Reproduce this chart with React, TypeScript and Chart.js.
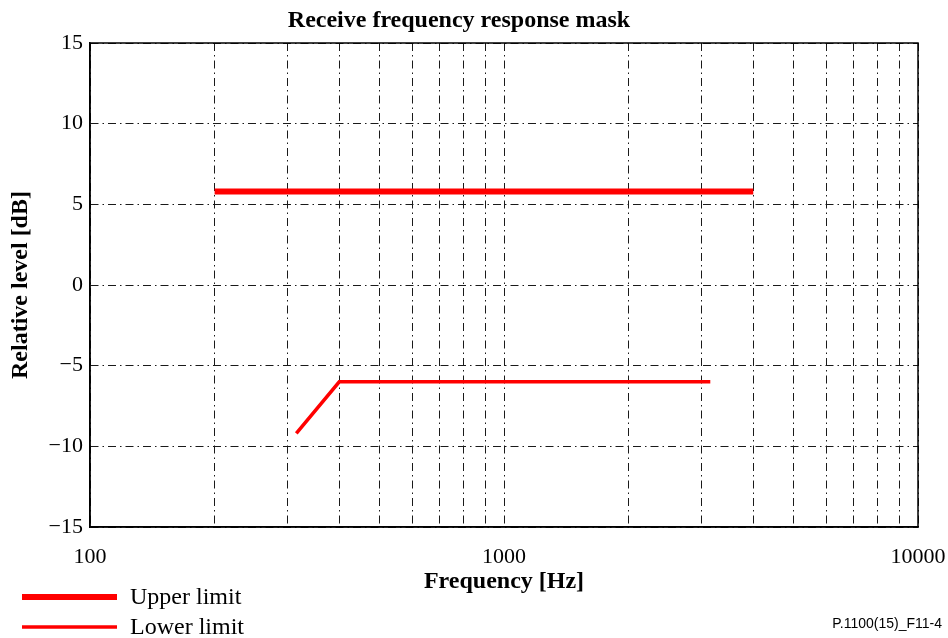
import React, { useEffect, useRef } from 'react';
import { Chart, registerables } from 'chart.js';

Chart.register(...registerables);

const chartTitle = 'Receive frequency response mask';
const xAxisTitle = 'Frequency [Hz]';
const yAxisTitle = 'Relative level [dB]';
const figureId = 'P.1100(15)_F11-4';

const xTickValues = [100, 200, 300, 400, 500, 600, 700, 800, 900, 1000, 2000, 3000, 4000, 5000, 6000, 7000, 8000, 9000, 10000];
const xTickLabels = ['100', '1000', '10000'];
const yTickValues = [-15, -10, -5, 0, 5, 10, 15];

const seriesLabels = ['Upper limit', 'Lower limit'];
const upperFreq = [200, 4000];
const upperLevel = [5.8, 5.8];
const lowerFreq = [315, 400, 3150];
const lowerLevel = [-9.2, -6, -6];

const SERIF = '"Liberation Serif", "Times New Roman", serif';
const SANS = '"Liberation Sans", Arial, sans-serif';
const DASH = [8, 4, 1.5, 4];

const framePlugin = {
  id: 'frame',
  afterDatasetsDraw(chart: any) {
    const { ctx, chartArea } = chart;
    ctx.save();
    ctx.strokeStyle = '#000';
    ctx.lineWidth = 1.5;
    ctx.setLineDash([]);
    ctx.strokeRect(chartArea.left, chartArea.top, chartArea.right - chartArea.left, chartArea.bottom - chartArea.top);
    ctx.restore();
  },
};

const legendPlugin = {
  id: 'customLegend',
  afterDraw(chart: any) {
    const { ctx } = chart;
    ctx.save();
    const rows = [597, 627];
    chart.data.datasets.forEach((ds: any, i: number) => {
      const y = rows[i];
      ctx.strokeStyle = ds.borderColor;
      ctx.lineWidth = ds.borderWidth;
      ctx.setLineDash([]);
      ctx.beginPath();
      ctx.moveTo(22, y);
      ctx.lineTo(117, y);
      ctx.stroke();
      ctx.fillStyle = '#000';
      ctx.font = `24px ${SERIF}`;
      ctx.textBaseline = 'alphabetic';
      ctx.textAlign = 'left';
      ctx.fillText(ds.label, 130, y + 7);
    });
    ctx.font = `14px ${SANS}`;
    ctx.textAlign = 'right';
    ctx.textBaseline = 'middle';
    ctx.fillText(figureId, 942, 624);
    ctx.restore();
  },
};

export default function App() {
  const canvasRef = useRef<HTMLCanvasElement | null>(null);

  useEffect(() => {
    document.body.style.margin = '0';
    const canvas = canvasRef.current;
    if (!canvas) return;
    const chart = new Chart(canvas, {
      type: 'line',
      data: {
        datasets: [
          {
            label: seriesLabels[0],
            data: upperFreq.map((f, i) => ({ x: f, y: upperLevel[i] })),
            borderColor: '#ff0000',
            backgroundColor: '#ff0000',
            borderWidth: 6,
            pointRadius: 0,
            borderCapStyle: 'butt',
          },
          {
            label: seriesLabels[1],
            data: lowerFreq.map((f, i) => ({ x: f, y: lowerLevel[i] })),
            borderColor: '#ff0000',
            backgroundColor: '#ff0000',
            borderWidth: 3.5,
            pointRadius: 0,
            borderCapStyle: 'butt',
          },
        ],
      },
      options: {
        responsive: false,
        animation: false,
        layout: { padding: { top: 0, right: 30, bottom: 42, left: 0 } },
        plugins: {
          legend: { display: false },
          tooltip: { enabled: false },
          title: {
            display: true,
            text: chartTitle,
            color: '#000',
            font: { family: SERIF, size: 24, weight: 'bold' },
            padding: { top: 6.6, bottom: 7.6 },
          },
        },
        scales: {
          x: {
            type: 'logarithmic',
            min: 100,
            max: 10000,
            afterBuildTicks: (s: any) => {
              s.ticks = xTickValues.map((v) => ({ value: v }));
            },
            afterFit: (s: any) => {
              s.height = 69;
              s.paddingRight = 30;
              s.paddingLeft = 0;
            },
            ticks: {
              autoSkip: false,
              maxRotation: 0,
              padding: 17,
              color: '#000',
              font: { family: SERIF, size: 22 },
              callback: (v: any) => xTickLabels.find((l) => Number(l) === Number(v)) ?? '',
            },
            grid: { color: '#1a1a1a', lineWidth: 1, drawTicks: false },
            border: { display: true, color: '#000', width: 1.5, dash: DASH },
            title: {
              display: true,
              text: xAxisTitle,
              color: '#000',
              font: { family: SERIF, size: 24, weight: 'bold' },
              padding: { top: 0, bottom: 0 },
            },
          },
          y: {
            type: 'linear',
            min: -15,
            max: 15,
            afterBuildTicks: (s: any) => {
              s.ticks = yTickValues.map((v) => ({ value: v }));
            },
            afterFit: (s: any) => {
              s.width = 90;
            },
            ticks: {
              padding: 7,
              color: '#000',
              font: { family: SERIF, size: 22 },
              callback: (v: any) => (Number(v) < 0 ? '\u2212' + Math.abs(Number(v)) : String(v)),
            },
            grid: { color: '#1a1a1a', lineWidth: 1, drawTicks: false },
            border: { display: true, color: '#000', width: 1.5, dash: DASH },
            title: {
              display: true,
              text: yAxisTitle,
              color: '#000',
              font: { family: SERIF, size: 24, weight: 'bold' },
              padding: { top: 6.6, bottom: 0 },
            },
          },
        },
      },
      plugins: [framePlugin, legendPlugin],
    } as any);
    return () => chart.destroy();
  }, []);

  return (
    <div style={{ width: 948, height: 638, position: 'relative', background: '#fff' }}>
      <canvas ref={canvasRef} width={948} height={638} style={{ width: 948, height: 638, display: 'block' }} />
    </div>
  );
}
